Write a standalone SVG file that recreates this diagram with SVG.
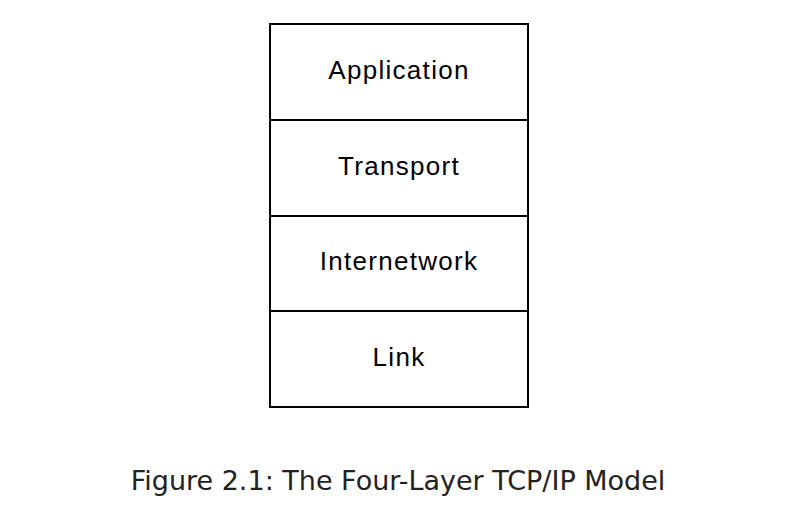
<svg xmlns="http://www.w3.org/2000/svg" width="789" height="510" viewBox="0 0 789 510">
<style>
.box{fill:#fff;stroke:#000;stroke-width:2}
.lbl{font-family:"Liberation Sans",Arial,sans-serif;font-size:26px;letter-spacing:1.3px;fill:#000;text-anchor:middle}
.cap{font-family:"DejaVu Sans",sans-serif;font-size:27px;fill:#222;text-anchor:middle}
</style>
<rect width="789" height="510" fill="#fff"/>
<g id="application"><rect class="box" x="270" y="24" width="258" height="96"/><text class="lbl" x="399" y="79">Application</text></g>
<g id="transport"><rect class="box" x="270" y="120" width="258" height="96"/><text class="lbl" x="399" y="175">Transport</text></g>
<g id="internetwork"><rect class="box" x="270" y="216" width="258" height="95"/><text class="lbl" x="399" y="270">Internetwork</text></g>
<g id="link"><rect class="box" x="270" y="311" width="258" height="96"/><text class="lbl" x="399" y="366">Link</text></g>
<g id="connectors"></g>
<text class="cap" x="398" y="490">Figure 2.1: The Four-Layer TCP/IP Model</text>
</svg>
